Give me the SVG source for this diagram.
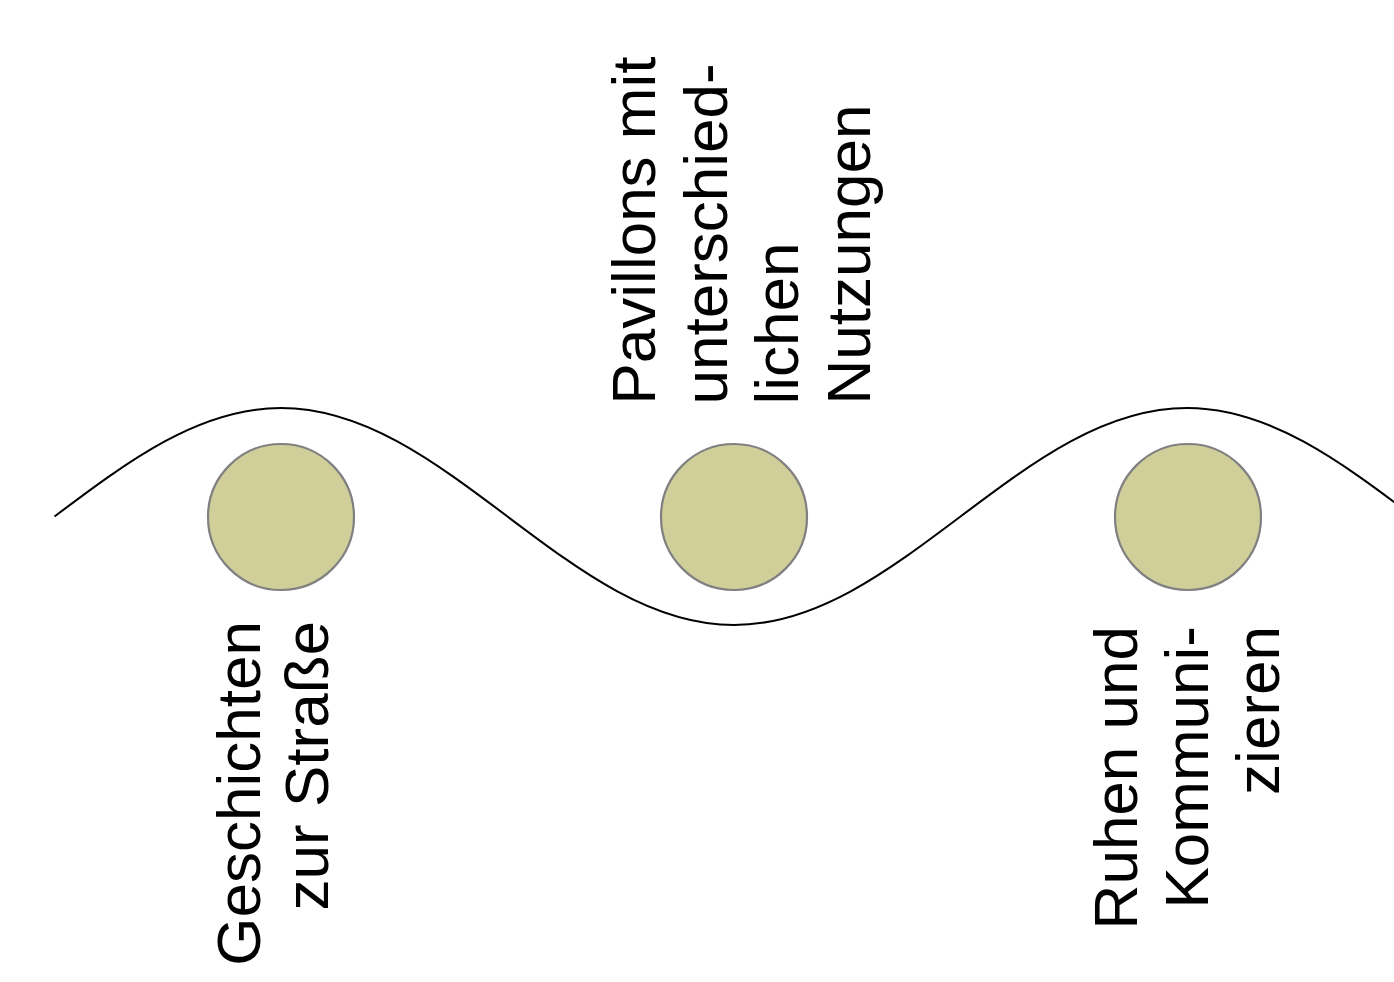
<svg xmlns="http://www.w3.org/2000/svg" width="1394" height="982" viewBox="0 0 1394 982">
<style>
.node circle{fill:#d0cf99;stroke:#808080;stroke-width:2.2}
.lbl{font-family:"Liberation Sans",Arial,sans-serif;font-size:62px;fill:#000}
.wave{fill:none;stroke:#000;stroke-width:2}
</style>
<rect width="1394" height="982" fill="#fff"/>
<g id="connectors">
<path class="wave" d="M54.5,516.5 C128.4,460.9 199,408 281,408 C363,408 433.6,460.9 507.5,516.5 C581.4,572.1 652,625 734,625 C816,625 886.6,572.1 960.5,516.5 C1034.4,460.9 1105,408 1187,408 C1269,408 1339.6,460.9 1413.5,516.5"/>
</g>
<g id="node1" class="node">
<circle cx="281" cy="517" r="73"/>
<g transform="rotate(-90)">
<text class="lbl" text-anchor="end" x="-621" y="260">Geschichten</text>
<text class="lbl" text-anchor="end" x="-621" y="328">zur Straße</text>
</g>
</g>
<g id="node2" class="node">
<circle cx="734" cy="517" r="73"/>
<g transform="rotate(-90)">
<text class="lbl" text-anchor="start" x="-404.5" y="655">Pavillons mit</text>
<text class="lbl" text-anchor="start" x="-404.5" y="726.5">unterschied-</text>
<text class="lbl" text-anchor="start" x="-404.5" y="798">lichen</text>
<text class="lbl" text-anchor="start" x="-404.5" y="869.5">Nutzungen</text>
</g>
</g>
<g id="node3" class="node">
<circle cx="1188" cy="517" r="73"/>
<g transform="rotate(-90)">
<text class="lbl" text-anchor="end" x="-626" y="1137">Ruhen und</text>
<text class="lbl" text-anchor="end" x="-626" y="1207.5">Kommuni-</text>
<text class="lbl" text-anchor="end" x="-626" y="1279">zieren</text>
</g>
</g>
</svg>
